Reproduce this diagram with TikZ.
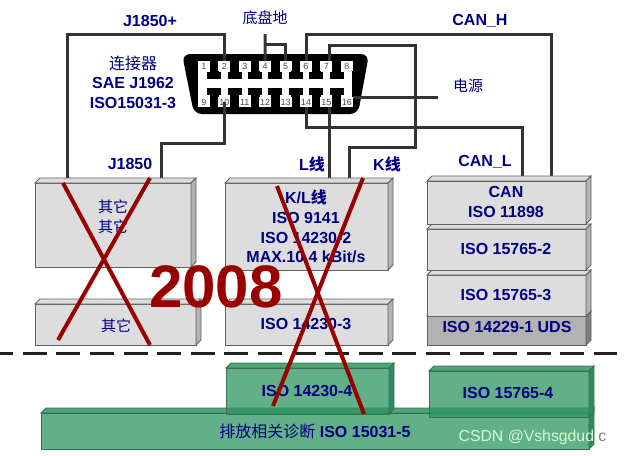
\documentclass[tikz,border=0pt]{standalone}
\usepackage{fontspec}
\setmainfont{Liberation Sans}
\newfontfamily\cjk{Noto Sans CJK SC}

\definecolor{navytext}{HTML}{000080}
\definecolor{wirecol}{HTML}{333333}
\definecolor{crossred}{HTML}{990000}
\definecolor{greyface}{HTML}{DDDDDD}
\definecolor{greyside}{HTML}{B2B2B2}
\definecolor{greyline}{HTML}{606060}
\definecolor{udsface}{HTML}{B2B2B2}
\definecolor{udsside}{HTML}{7F7F7F}
\definecolor{greenface}{HTML}{2E9560}
\definecolor{greenside}{HTML}{2E8B5E}
\definecolor{greenline}{HTML}{3B6E55}

\tikzset{
  wire/.style={draw=wirecol, line width=3pt},
  crossout/.style={draw=crossred, line width=4pt},
  greybox/.style={draw=greyline, fill=greyface, line width=.8pt, inner sep=0pt, outer sep=0pt},
  udsbox/.style={greybox, fill=udsface},
  greenbox/.style={draw=greenline, fill=greenface, fill opacity=.75, line width=.8pt, inner sep=0pt, outer sep=0pt},
  greytop/.style={draw=greyline, fill=greyface, line width=.8pt},
  greyflank/.style={draw=greyline, fill=greyside, line width=.8pt},
  udsflank/.style={draw=greyline, fill=udsside, line width=.8pt},
  greentop/.style={draw=greenline, fill=greenface, fill opacity=.85, line width=.8pt},
  greenflank/.style={draw=greenline, fill=greenside, line width=.8pt},
  isotext/.style={text=navytext, font=\fontsize{16}{19.6}\selectfont\bfseries, align=center, inner sep=0pt},
  cntext/.style={text=navytext, font=\fontsize{15}{20}\selectfont\cjk, align=center, inner sep=0pt},
  pinbox/.style={fill=white, minimum width=12, minimum height=10, inner sep=0pt, outer sep=0pt,
    text=black!70, font=\fontsize{9}{9}\selectfont}
}

% top and side faces of a box node
\newcommand{\boxfaces}[3]{
  \path[#2] (#1.north west) -- ++(5,-5) -- ([shift={(5,-5)}]#1.north east) -- (#1.north east) -- cycle;
  \path[#3] (#1.north east) -- ++(5,-5) -- ([shift={(5,-5)}]#1.south east) -- (#1.south east) -- cycle;
}

\begin{document}
\begin{tikzpicture}[x=1pt, y=-1pt]
\useasboundingbox (0,0) rectangle (625,456);

% Connector body
\fill[black, rounded corners=8] (182,54) -- (369,54) -- (358,114) -- (194,114) -- cycle;
\fill[white] (198,61) rectangle (352,107);
\foreach \n in {1,...,7} {
  \fill[black] ({193.8+20.4*\n-4.5},61) rectangle ++(9,12);
  \fill[black] ({193.8+20.4*\n-7},72) rectangle ++(14,7);
  \fill[black] ({193.8+20.4*\n-7},88) rectangle ++(14,7);
  \fill[black] ({193.8+20.4*\n-4.5},94) rectangle ++(9,13);
}
\foreach \n in {1,...,8} {
  \node[pinbox] (p\n) at ({183.6+20.4*\n},66) {\n};
}
\foreach \n in {9,...,16} {
  \node[pinbox] (p\n) at ({183.6+20.4*(\n-8)},102) {\n};
}

% Box nodes are placed first, their faces are drawn after the wires
\coordinate (topJ) at (67,34);
\coordinate (gnd) at (265.2,34);
\coordinate (gndB) at (265.2,44);
\coordinate (topCanH) at (551,34);
\coordinate (kline) at ([xshift=3]p7.north);
\coordinate (kTop) at (415,45);
\coordinate (kMid) at (349,147);
\coordinate (lline) at ([xshift=3]p15.south);
\coordinate (midCanL) at (522,127);
\coordinate (midJ) at (161,143);
\coordinate (pwr) at (438,97);

\path (113,183) coordinate (oaTop) (306.5,183) coordinate (klTop) (506.5,181) coordinate (canTop);

% Wires
\draw[wire] (p2.north) |- (topJ) -- (topJ |- oaTop);
\draw[wire] (gnd) -- (p4.north);
\draw[wire] (gndB) -| (p5.north);
\draw[wire] (p6.north) |- (topCanH) -- (topCanH |- canTop);
\draw[wire] (kline) |- (kTop) |- (kMid) -- (kMid |- klTop);
\draw[wire] (lline) -- (lline |- klTop);
\draw[wire] (p14.south) |- (midCanL) -- (midCanL |- canTop);
\draw[wire] (p10.center) |- (midJ) -- (midJ |- oaTop);
\draw[wire] (p16.north east) -- (pwr);

% Grey boxes
\node[greybox, minimum width=156, minimum height=84] (oa) at (113,225) {};
\boxfaces{oa}{greytop}{greyflank}
\node[greybox, minimum width=161, minimum height=41] (ob) at (115.5,324.5) {};
\boxfaces{ob}{greytop}{greyflank}
\node[greybox, minimum width=163, minimum height=87] (kl) at (306.5,226.5) {};
\boxfaces{kl}{greytop}{greyflank}
\node[greybox, minimum width=163, minimum height=41] (kb) at (306.5,324.5) {};
\boxfaces{kb}{greytop}{greyflank}
\node[udsbox, minimum width=159, minimum height=29] (uds) at (506.5,330.5) {};
\boxfaces{uds}{greytop}{udsflank}
\node[greybox, minimum width=159, minimum height=41] (cc) at (506.5,295.5) {};
\boxfaces{cc}{greytop}{greyflank}
\node[greybox, minimum width=159, minimum height=41] (cb) at (506.5,249.5) {};
\boxfaces{cb}{greytop}{greyflank}
\node[greybox, minimum width=159, minimum height=43] (ca) at (506.5,202.5) {};
\boxfaces{ca}{greytop}{greyflank}

% Dashed line
\coordinate (dashL) at (-10.9,353);
\coordinate (dashR) at (617,353);
\draw[wirecol!60!black, line width=3pt, dash pattern=on 24pt off 9.6pt] (dashL) -- (dashR);

% Green boxes
\node[greenbox, minimum width=548, minimum height=36] (gbar) at (315,431) {};
\boxfaces{gbar}{greentop}{greenflank}
\node[greenbox, minimum width=163, minimum height=46] (ga) at (307.5,391) {};
\boxfaces{ga}{greentop}{greenflank}
\node[greenbox, minimum width=160, minimum height=46] (gb) at (509,394) {};
\boxfaces{gb}{greentop}{greenflank}

% Labels at the wires
\node[isotext] (lJp) at (150,21) {J1850+};
\node[cntext] (lGnd) at (265,18) {底盘地};
\node[isotext] (lCanH) at (480,21) {CAN\_H};
\node[isotext, align=center] (lConn) at (133,82) {{\cjk\mdseries 连接器}\\SAE J1962\\ISO15031-3};
\node[cntext] (lPwr) at (468,86) {电源};
\node[isotext] (lJ) at (130,164) {J1850};
\node[isotext] (lL) at (312,164) {L{\cjk 线}};
\node[isotext] (lK) at (387,164) {K{\cjk 线}};
\node[isotext] (lCanL) at (485,162) {CAN\_L};

% Labels in the boxes
\node[cntext] (tOa) at (113,217) {其它\\其它};
\node[cntext] (tOb) at (116,326) {其它};
\node[isotext] (tKl) at (306,226.5) {K/L{\cjk 线}\\ISO 9141\\ISO 14230-2\\MAX.10.4 kBit/s};
\node[isotext] (tKb) at (306,324) {ISO 14230-3};
\node[isotext] (tCa) at (506,202) {CAN\\ISO 11898};
\node[isotext] (tCb) at (506,249) {ISO 15765-2};
\node[isotext] (tCc) at (506,295) {ISO 15765-3};
\node[isotext] (tUds) at (507,327) {ISO 14229-1 UDS};
\node[isotext] (tGa) at (307,391) {ISO 14230-4};
\node[isotext] (tGb) at (508,393) {ISO 15765-4};
\node[isotext] (tBar) at (315,431) {{\cjk\mdseries 排放相关诊断} ISO 15031-5};

% Crosses
\coordinate (xa) at (63,183);
\coordinate (xb) at (150,345);
\coordinate (xc) at (150,178);
\coordinate (xd) at (58,340);
\coordinate (xe) at (277,186);
\coordinate (xf) at (364,414);
\coordinate (xg) at (363,178);
\coordinate (xh) at (273,406);
\draw[crossout] (xa) -- (xb);
\draw[crossout] (xc) -- (xd);
\draw[crossout] (xe) -- (xf);
\draw[crossout] (xg) -- (xh);

\node[text=crossred, font=\fontsize{60}{60}\selectfont\bfseries, inner sep=0pt] (year) at (216,287) {2008};

\node[inner sep=0pt, text=white!82!green, font=\fontsize{15.8}{16}\selectfont] (mark) at (532.5,437) {CSDN @Vshsgdud.\textcolor{gray}{ c}};
\end{tikzpicture}
\end{document}
